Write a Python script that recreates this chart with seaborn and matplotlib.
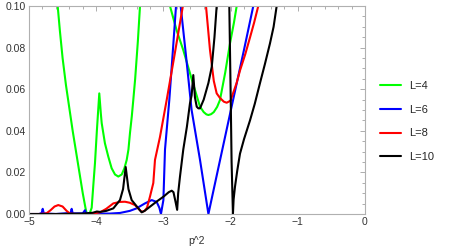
import numpy as np
import pandas as pd
import matplotlib
matplotlib.use('Agg')
import matplotlib.pyplot as plt
from matplotlib.ticker import MultipleLocator, FormatStrFormatter
import seaborn as sns

# values, p^2 on x; each L has branches that leave the plot range (0..0.1)
l4_x0 = [-4.573, -4.54, -4.50, -4.45, -4.40, -4.35, -4.30, -4.25, -4.20, -4.16, -4.14, -4.10, -4.067,
         -4.04, -4.018, -3.99, -3.97, -3.954, -3.93, -3.918, -3.87, -3.82, -3.77, -3.72, -3.671, -3.62,
         -3.58, -3.546, -3.52, -3.497, -3.47, -3.448, -3.42, -3.38, -3.348]
l4_y0 = [0.100, 0.088, 0.075, 0.062, 0.051, 0.040, 0.030, 0.020, 0.010, 0.003, 0.0, 0.0, 0.003,
         0.015, 0.0245, 0.040, 0.050, 0.058, 0.048, 0.0437, 0.034, 0.0276, 0.022, 0.019, 0.018, 0.019,
         0.022, 0.026, 0.031, 0.039, 0.047, 0.0548, 0.065, 0.083, 0.100]
l4_x1 = [-2.902, -2.80, -2.704, -2.58, -2.455, -2.40, -2.36, -2.33, -2.29, -2.25, -2.20, -2.158, -2.08,
         -2.009, -1.95, -1.909]
l4_y1 = [0.100, 0.088, 0.0788, 0.065, 0.0516, 0.0490, 0.0479, 0.0476, 0.0480, 0.049, 0.0515, 0.0548,
         0.068, 0.082, 0.092, 0.100]

l6_x0 = [-5.0, -4.85, -4.81, -4.796, -4.78, -4.60, -4.38, -4.365, -4.35, -4.20, -4.167, -4.15, -4.00,
         -3.80, -3.646, -3.50, -3.40, -3.28, -3.174, -3.10, -3.06, -3.036, -3.00, -2.976, -2.912, -2.86,
         -2.812]
l6_y0 = [0.0, 0.0, 0.0005, 0.0025, 0.0003, 0.0, 0.0005, 0.0025, 0.0003, 0.0003, 0.0018, 0.0003, 0.0002,
         0.0002, 0.0005, 0.0015, 0.0027, 0.0050, 0.0067, 0.0058, 0.003, 0.0, 0.0067, 0.031, 0.0548, 0.078,
         0.100]
l6_x1 = [-2.743, -2.66, -2.58, -2.455, -2.33, -2.25, -2.009, -1.80, -1.662]
l6_y1 = [0.100, 0.075, 0.050, 0.026, 0.0, 0.012, 0.048, 0.079, 0.100]

l8_x0 = [-5.0, -4.85, -4.74, -4.68, -4.62, -4.564, -4.50, -4.44, -4.39, -4.30, -4.10, -3.943, -3.85,
         -3.745, -3.65, -3.571, -3.50, -3.423, -3.36, -3.323, -3.28, -3.244, -3.20, -3.15, -3.125,
         -3.051, -2.951, -2.842, -2.71]
l8_y0 = [0.0, 0.0, 0.0003, 0.0018, 0.0036, 0.0043, 0.0036, 0.0015, 0.0002, 0.0, 0.0, 0.0008, 0.0025,
         0.0051, 0.0058, 0.0059, 0.0054, 0.0043, 0.0022, 0.001, 0.0015, 0.003, 0.0083, 0.0149, 0.026,
         0.037, 0.0548, 0.075, 0.100]
l8_x1 = [-2.366, -2.307, -2.25, -2.207, -2.158, -2.10, -2.058, -2.00, -1.964, -1.91, -1.86, -1.78, -1.71,
         -1.65, -1.588]
l8_y1 = [0.100, 0.079, 0.064, 0.058, 0.0558, 0.054, 0.0535, 0.0545, 0.058, 0.063, 0.069, 0.077, 0.085,
         0.092, 0.100]

l10_x0 = [-5.0, -4.60, -4.20, -4.05, -3.99, -3.943, -3.85, -3.745, -3.646, -3.60, -3.561, -3.52,
          -3.472, -3.373, -3.323, -3.28, -3.20, -3.10, -3.00, -2.92, -2.876, -2.85, -2.82, -2.795,
          -2.78, -2.753, -2.704, -2.65, -2.604, -2.58, -2.555, -2.53, -2.504, -2.48, -2.455, -2.40,
          -2.33, -2.28, -2.24, -2.207]
l10_y0 = [0.0, 0.0, 0.0002, 0.0006, 0.0012, 0.001, 0.0015, 0.0027, 0.0067, 0.012, 0.0226, 0.012,
          0.0067, 0.0027, 0.0008, 0.0015, 0.0035, 0.006, 0.0083, 0.0105, 0.0112, 0.0105, 0.006, 0.002,
          0.010, 0.018, 0.031, 0.042, 0.0533, 0.057, 0.0668, 0.056, 0.0516, 0.0508, 0.0508, 0.055,
          0.063, 0.0708, 0.085, 0.100]
l10_x1 = [-2.019, -2.00, -1.985, -1.965, -1.955, -1.935, -1.90, -1.86, -1.80, -1.711, -1.64, -1.562,
          -1.49, -1.414, -1.36, -1.314]
l10_y1 = [0.100, 0.060, 0.025, 0.0, 0.007, 0.013, 0.021, 0.029, 0.036, 0.045, 0.053, 0.063, 0.072,
          0.082, 0.090, 0.100]

labels = ['L=4', 'L=6', 'L=8', 'L=10']
colors = ['#00ff00', '#0000ff', '#ff0000', '#000000']
x_ticks = [-5, -4, -3, -2, -1, 0]
y_ticks = [0.00, 0.02, 0.04, 0.06, 0.08, 0.10]

series = {
    'L=4': [(l4_x0, l4_y0), (l4_x1, l4_y1)],
    'L=6': [(l6_x0, l6_y0), (l6_x1, l6_y1)],
    'L=8': [(l8_x0, l8_y0), (l8_x1, l8_y1)],
    'L=10': [(l10_x0, l10_y0), (l10_x1, l10_y1)],
}

rows = []
for lab, parts in series.items():
    for seg, (xs, ys) in enumerate(parts):
        for x, y in zip(xs, ys):
            rows.append({'p2': x, 'val': y, 'L': lab, 'seg': seg})
df = pd.DataFrame(rows)

sns.set_style('white')
plt.rcParams['font.family'] = ['Liberation Sans', 'DejaVu Sans']

fig = plt.figure(figsize=(4.58, 2.47), dpi=100)
ax = fig.add_axes([0.0633, 0.1336, 0.7336, 0.842])

sns.lineplot(data=df, x='p2', y='val', hue='L', hue_order=labels, palette=colors,
             units='seg', estimator=None, sort=False, linewidth=1.5, ax=ax)

ax.set_xlim(-5, 0)
ax.set_ylim(0, 0.1)
ax.set_xticks(x_ticks)
ax.set_yticks(y_ticks)
ax.yaxis.set_major_formatter(FormatStrFormatter('%.2f'))
ax.xaxis.set_minor_locator(MultipleLocator(0.2))
ax.yaxis.set_minor_locator(MultipleLocator(0.005))
ax.tick_params(which='both', direction='in', top=True, right=True, color='#a0a0a0',
               labelsize=7.5, labelcolor='#333333', width=0.6)
ax.tick_params(which='major', length=3.5, pad=2.5)
ax.tick_params(which='minor', length=2)
for s in ax.spines.values():
    s.set_color('#b0b0b0')
    s.set_linewidth(0.8)

ax.set_xlabel('p^2', fontsize=7.5, color='#333333', labelpad=6)
ax.set_ylabel('')

sns.move_legend(ax, loc='center left', bbox_to_anchor=(0.83, 0.508), bbox_transform=fig.transFigure,
                title=None, frameon=False, fontsize=8, handlelength=1.9, handletextpad=0.7,
                labelspacing=1.25, borderpad=0, borderaxespad=0)

plt.savefig('out.png', dpi=100)
